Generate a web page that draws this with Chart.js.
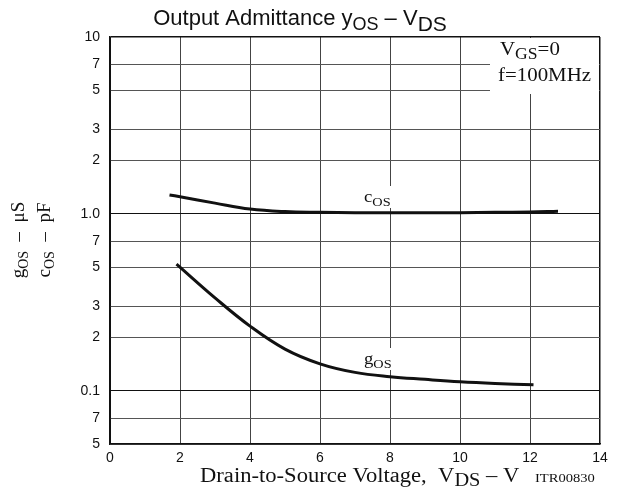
<!DOCTYPE html>
<html>
<head>
<meta charset="utf-8">
<script src="https://cdn.jsdelivr.net/npm/chart.js@4.4.1/dist/chart.umd.min.js"></script>
<style>
  html, body { margin: 0; padding: 0; background: #fff; }
  #wrap { width: 620px; height: 497px; position: relative; }
</style>
</head>
<body>
<div id="wrap"><canvas id="chart" width="620" height="497"></canvas></div>
<script>
// curve data
const vdsC = [1.7, 2, 3, 4, 5, 6, 7, 8, 9, 10, 11, 12, 12.8];
const cOS = [1.28, 1.25, 1.15, 1.065, 1.03, 1.02, 1.015, 1.015, 1.015, 1.015, 1.02, 1.025, 1.035];
const vdsG = [1.9, 3, 4, 5, 6, 7, 8, 9, 10, 11, 12.1];
const gOS = [0.52, 0.335, 0.232, 0.172, 0.142, 0.127, 0.12, 0.116, 0.1125, 0.11, 0.108];

const yTicks = [0.05, 0.07, 0.1, 0.2, 0.3, 0.5, 0.7, 1, 2, 3, 5, 7, 10];
const yTickLabels = ["5", "7", "0.1", "2", "3", "5", "7", "1.0", "2", "3", "5", "7", "10"];
const majorY = [0.1, 1, 10];

const SERIF = '"Liberation Serif", "Times New Roman", serif';
const SANS = '"Liberation Sans", Arial, sans-serif';

// draw a row of text pieces (for subscripts); sx stretches horizontally
function drawRuns(ctx, x, y, runs, align, sx) {
  sx = sx || 1;
  let w = 0;
  runs.forEach(r => { ctx.font = r.font; w += ctx.measureText(r.t).width; });
  ctx.save();
  ctx.translate(x, y);
  ctx.scale(sx, 1);
  let cx = align === "center" ? -w / 2 : 0;
  ctx.textAlign = "left";
  ctx.textBaseline = "alphabetic";
  runs.forEach(r => {
    ctx.font = r.font;
    ctx.fillText(r.t, cx, r.dy || 0);
    cx += ctx.measureText(r.t).width;
  });
  ctx.restore();
  return w * sx;
}

const textPlugin = {
  id: "texts",
  beforeDatasetsDraw(chart) {
    const ctx = chart.ctx;
    ctx.save();
    ctx.fillStyle = "#fff";
    // box behind the condition text
    ctx.fillRect(490, 38, 109, 56);
    // white behind curve labels
    ctx.fillRect(362, 186, 34, 22);
    ctx.fillRect(362, 348, 36, 22);
    ctx.restore();
  },
  afterDraw(chart) {
    const ctx = chart.ctx;
    ctx.save();
    ctx.fillStyle = "#111";

    drawRuns(ctx, 300, 25, [
      { t: "Output Admittance y", font: "22px " + SANS },
      { t: "OS", font: "18px " + SANS, dy: 5 },
      { t: " \u2013 V", font: "22px " + SANS },
      { t: "DS", font: "21px " + SANS, dy: 6 }
    ], "center");

    drawRuns(ctx, 500, 55, [
      { t: "V", font: "19px " + SERIF },
      { t: "GS", font: "16px " + SERIF, dy: 4 },
      { t: "=0", font: "19px " + SERIF }
    ], "left", 1.1);
    drawRuns(ctx, 498, 81, [{ t: "f=100MHz", font: "19px " + SERIF }], "left", 1.1);

    drawRuns(ctx, 364, 202, [
      { t: "c", font: "17px " + SERIF },
      { t: "OS", font: "13px " + SERIF, dy: 4 }
    ], "left", 1.1);
    drawRuns(ctx, 364, 364, [
      { t: "g", font: "17px " + SERIF },
      { t: "OS", font: "13px " + SERIF, dy: 4 }
    ], "left", 1.1);

    drawRuns(ctx, 200, 482, [
      { t: "Drain-to-Source Voltage,  V", font: "20px " + SERIF },
      { t: "DS", font: "18px " + SERIF, dy: 4 },
      { t: " \u2013 V", font: "20px " + SERIF }
    ], "left", 1.13);
    drawRuns(ctx, 535, 482, [{ t: "ITR00830", font: "13px " + SERIF }], "left", 1.12);

    // rotated y-axis titles
    ctx.translate(24, 240);
    ctx.rotate(-Math.PI / 2);
    drawRuns(ctx, 0, 0, [
      { t: "g", font: "19px " + SERIF },
      { t: "OS", font: "14px " + SERIF, dy: 4 },
      { t: "  \u2013  \u03bcS", font: "19px " + SERIF }
    ], "center");
    drawRuns(ctx, 0, 26, [
      { t: "c", font: "19px " + SERIF },
      { t: "OS", font: "14px " + SERIF, dy: 4 },
      { t: "  \u2013  pF", font: "19px " + SERIF }
    ], "center");
    ctx.restore();
  }
};

const ctx = document.getElementById("chart").getContext("2d");
new Chart(ctx, {
  type: "line",
  data: {
    datasets: [
      {
        label: "cOS",
        data: vdsC.map((x, i) => ({ x: x, y: cOS[i] })),
        borderColor: "#111",
        borderWidth: 3,
        pointRadius: 0,
        tension: 0.4
      },
      {
        label: "gOS",
        data: vdsG.map((x, i) => ({ x: x, y: gOS[i] })),
        borderColor: "#111",
        borderWidth: 3,
        pointRadius: 0,
        tension: 0.4
      }
    ]
  },
  options: {
    responsive: false,
    animation: false,
    layout: { padding: { left: 0, right: 20, top: 37, bottom: 0 } },
    plugins: {
      legend: { display: false },
      title: { display: false },
      tooltip: { enabled: false }
    },
    scales: {
      x: {
        type: "linear",
        min: 0,
        max: 14,
        afterFit: s => { s.height = 53; },
        ticks: {
          stepSize: 2,
          padding: 6,
          color: "#111",
          font: { family: SANS, size: 14 }
        },
        grid: {
          color: c => (c.tick && (c.tick.value === 0 || c.tick.value === 14)) ? "#111" : "#444",
          lineWidth: c => (c.tick && c.tick.value === 14) ? 1.5 : 1,
          drawTicks: false
        },
        border: { color: "#111", width: 1.5 }
      },
      y: {
        type: "logarithmic",
        min: 0.05,
        max: 10,
        afterFit: s => { s.width = 110; },
        afterBuildTicks: s => { s.ticks = yTicks.map(v => ({ value: v })); },
        ticks: {
          padding: 10,
          color: "#111",
          font: { family: SANS, size: 14 },
          autoSkip: false,
          callback: (v) => {
            const i = yTicks.findIndex(t => Math.abs(t - v) < 1e-9);
            return i >= 0 ? yTickLabels[i] : "";
          }
        },
        grid: {
          color: c => (c.tick && majorY.includes(c.tick.value)) ? "#111" : "#555",
          lineWidth: c => (c.tick && c.tick.value === 10) ? 1.5 : 1,
          drawTicks: false
        },
        border: { color: "#111", width: 1.5 }
      }
    }
  },
  plugins: [textPlugin]
});
</script>
</body>
</html>
